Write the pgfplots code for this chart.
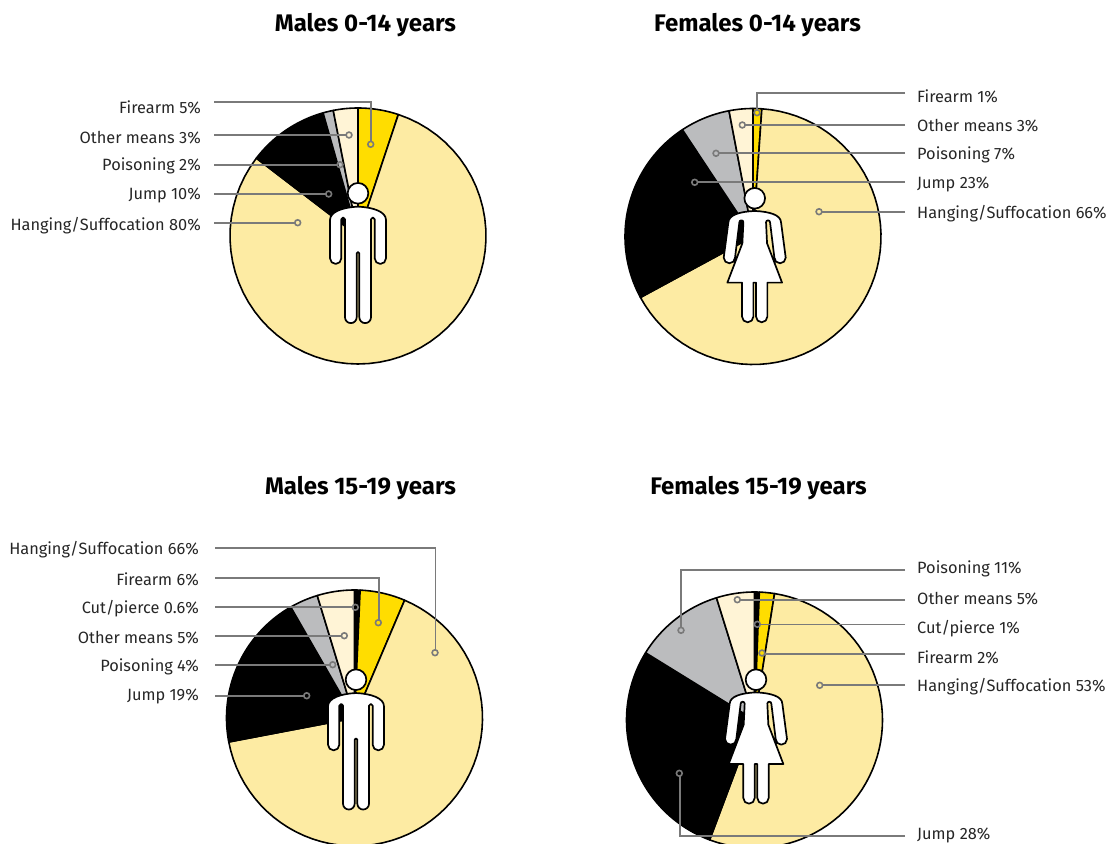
\documentclass[border=0pt]{standalone}
\usepackage{pgfplots}
\pgfplotsset{compat=1.18}
\usepackage{fontspec}
\setmainfont{Fira Sans}
\definecolor{hang}{HTML}{FDEBA3}
\definecolor{fire}{HTML}{FFDD00}
\definecolor{other}{HTML}{FFF4D6}
\definecolor{pois}{HTML}{BBBCBE}
\definecolor{lead}{HTML}{7A7A7A}
\newcommand{\slice}[5]{% cx cy start end colour (angles clockwise from top)
  \addplot[fill=#5,draw=black,line width=1.6pt,line join=round,domain=#3:#4,samples=60]
    ({#1+128*sin(x)},{#2-128*cos(x)}) -- (axis cs:#1,#2) -- cycle;}
% cx cy, then shares in percent: cut firearm hanging jump poisoning other
\newcommand{\pie}[8]{%
  \pgfmathsetmacro\pb{3.6*#3}%
  \pgfmathsetmacro\pc{\pb+3.6*#4}%
  \pgfmathsetmacro\pd{\pc+3.6*#5}%
  \pgfmathsetmacro\pe{\pd+3.6*#6}%
  \pgfmathsetmacro\pf{\pe+3.6*#7}%
  \edef\temp{%
    \ifdim\pb pt>0pt \noexpand\slice{#1}{#2}{0}{\pb}{black}\fi
    \noexpand\slice{#1}{#2}{\pb}{\pc}{fire}%
    \noexpand\slice{#1}{#2}{\pc}{\pd}{hang}%
    \noexpand\slice{#1}{#2}{\pd}{\pe}{black}%
    \noexpand\slice{#1}{#2}{\pe}{\pf}{pois}%
    \noexpand\slice{#1}{#2}{\pf}{360}{other}}%
  \temp}
\newcommand{\leader}[1]{\addplot[lead,line width=1.7pt,mark=none] coordinates {#1};}
\newcommand{\dotat}[2]{\addplot[lead,line width=1.6pt,only marks,mark=o,mark size=2.9pt,mark options={fill=none}] coordinates {(#1,#2)};}
\newcommand{\lab}[3]{\node[anchor=east,inner sep=0pt,yshift=-1.3pt,font=\fontsize{16.35}{18}\selectfont,text=black!85] at (axis cs:#1,#2) {#3};}
\newcommand{\rab}[3]{\node[anchor=west,inner sep=0pt,yshift=-1.3pt,font=\fontsize{16.35}{18}\selectfont,text=black!85] at (axis cs:#1,#2) {#3};}
\newcommand{\ttl}[3]{\node[inner sep=0pt,yshift=-1.5pt,font=\bfseries\fontsize{24}{28}\selectfont] at (axis cs:#1,#2) {#3};}
\newcommand{\male}[2]{%
 \begin{scope}[shift={(#1,843-#2)},xscale=1/3,yscale=-1/3,line width=1.7pt,fill=white,draw=black,line join=round]
  \filldraw (-84,80) .. controls (-84,55) and (-45,42) .. (0,40) .. controls (45,42) and (84,55) .. (84,80)
   -- (84,195) arc[start angle=0,end angle=180,radius=17] -- (50,78)
   arc[start angle=0,end angle=-180,radius=5.5] -- (39,372) arc[start angle=0,end angle=180,radius=17.5]
   -- (4,180) arc[start angle=0,end angle=-180,radius=4] -- (-4,372)
   arc[start angle=0,end angle=180,radius=17.5] -- (-39,78) arc[start angle=0,end angle=-180,radius=5.5]
   -- (-50,195) arc[start angle=0,end angle=180,radius=17] -- cycle;
  \filldraw (0,0) circle[radius=31];
 \end{scope}}
\newcommand{\female}[2]{%
 \begin{scope}[shift={(#1,843-#2)},xscale=1/3,yscale=-1/3,line width=1.7pt,fill=white,draw=black,line join=round]
  \filldraw (-79,72) .. controls (-78,50) and (-45,40) .. (0,38) .. controls (45,40) and (78,50) .. (79,72)
   -- (93,178) arc[start angle=0,end angle=180,radius=17] -- (46,72)
   arc[start angle=0,end angle=-180,radius=6] -- (37,135) -- (82,253) -- (38,253) -- (38,355)
   arc[start angle=0,end angle=180,radius=17] -- (4,253) -- (-4,253) -- (-4,355)
   arc[start angle=0,end angle=180,radius=17] -- (-38,253) -- (-82,253) -- (-37,135) -- (-34,72)
   arc[start angle=0,end angle=-180,radius=6] -- (-59,178) arc[start angle=0,end angle=180,radius=17] -- cycle;
  \filldraw (0,0) circle[radius=31];
 \end{scope}}
\begin{document}
\begin{tikzpicture}[x=1pt,y=1pt]
\useasboundingbox (0,0) rectangle (1110,843);
\begin{axis}[
  at={(0,0)},anchor=south west,
  scale only axis,width=1110pt,height=843pt,
  xmin=0,xmax=1110,ymin=0,ymax=843,y dir=reverse,
  hide axis,clip=true]
% wedge shares
\pie{358}{236}{0}{5.1}{80.3}{10.2}{1.3}{3.1}
\pie{753}{236.5}{0}{1.1}{66.0}{23.6}{6.3}{2.9}
\pie{354.5}{718}{0.7}{5.7}{65.6}{19.7}{3.6}{4.7}
\pie{754.5}{720}{0.6}{1.9}{53.2}{28.1}{11.4}{4.6}
% leaders
\leader{(214,102) (371,102) (371,141)}\dotat{370.7}{144.3}
\leader{(214,135) (346,135)}\dotat{349}{135}
\leader{(214,165) (337,165)}\dotat{340}{164.7}
\leader{(214,194) (326,194)}\dotat{328.7}{194}
\leader{(214,222.7) (295,222.7)}\dotat{297.7}{222.7}
\leader{(905,93) (757,93) (757,110)}\dotat{757}{112.7}
\leader{(905,125) (745,125)}\dotat{742.3}{125}
\leader{(905,153.3) (719,153.3)}\dotat{716}{153.3}
\leader{(905,182.3) (697.5,182.3)}\dotat{694.7}{182.3}
\leader{(905,211.7) (822,211.7)}\dotat{819}{211.7}
\leader{(215,547.7) (435.5,547.7) (435.5,650)}\dotat{435}{652.7}
\leader{(215,578) (379,578) (379,620)}\dotat{378.3}{622.7}
\leader{(215,607.3) (352.5,607.3)}\dotat{355.3}{607.3}
\leader{(215,635.7) (341.5,635.7)}\dotat{344.3}{635.7}
\leader{(215,664.7) (330,664.7)}\dotat{332.7}{664.7}
\leader{(215,695.7) (304,695.7)}\dotat{306.7}{695.7}
\leader{(905,569.7) (681.3,569.7) (681.3,627.5)}\dotat{681}{630.3}
\leader{(905,600) (740,600)}\dotat{737.3}{599.7}
\leader{(905,624.5) (760,624.5)}\dotat{757.3}{624.3}
\leader{(905,653.7) (764.7,653.7)}\dotat{762}{653}
\leader{(905,685.3) (822.5,685.3)}\dotat{819.7}{685.3}
\leader{(905,836.3) (679.7,836.3) (679.7,776)}\dotat{679.3}{773.3}
% titles
\ttl{365.5}{24}{Males 0-14 years}
\ttl{757.5}{24}{Females 0-14 years}
\ttl{360.5}{487}{Males 15-19 years}
\ttl{758.5}{487}{Females 15-19 years}
% labels
\lab{201}{106}{Firearm 5\%}
\lab{201}{136}{Other means 3\%}
\lab{201}{165}{Poisoning 2\%}
\lab{201}{194}{Jump 10\%}
\lab{201}{224}{Hanging/Suffocation 80\%}
\rab{917}{95}{Firearm 1\%}
\rab{917}{124}{Other means 3\%}
\rab{917}{153.5}{Poisoning 7\%}
\rab{917}{183}{Jump 23\%}
\rab{917}{212}{Hanging/Suffocation 66\%}
\lab{199}{548.5}{Hanging/Suffocation 66\%}
\lab{199}{578}{Firearm 6\%}
\lab{199}{607}{Cut/pierce 0.6\%}
\lab{199}{636.5}{Other means 5\%}
\lab{199}{666}{Poisoning 4\%}
\lab{199}{695.5}{Jump 19\%}
\rab{917}{568}{Poisoning 11\%}
\rab{917}{597.5}{Other means 5\%}
\rab{917}{627}{Cut/pierce 1\%}
\rab{917}{656}{Firearm 2\%}
\rab{917}{685}{Hanging/Suffocation 53\%}
\rab{917}{834}{Jump 28\%}
\end{axis}
\male{358}{193.3}
\female{754.7}{198.3}
\male{356}{679.7}
\female{756}{679.7}
\end{tikzpicture}
\end{document}
